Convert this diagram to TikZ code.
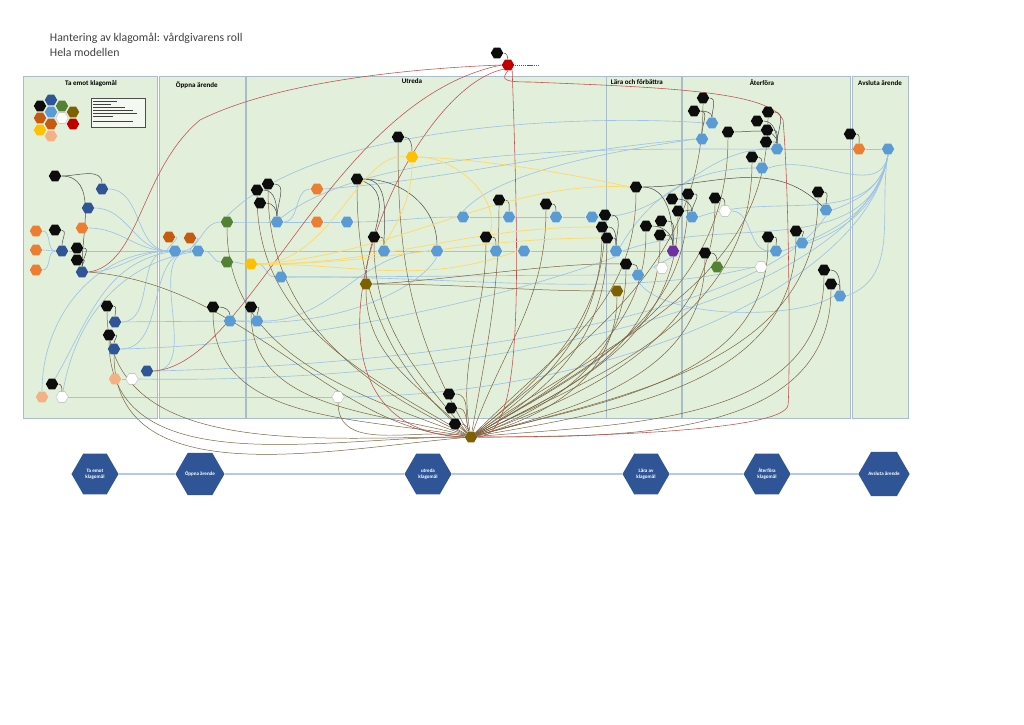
\documentclass[tikz,border=0pt]{standalone}
\usepackage{fontspec}
\setmainfont{Carlito}
\usepackage{tikz}
\usetikzlibrary{positioning, shapes.geometric, calc}
\pgfdeclarelayer{panel}
\pgfdeclarelayer{wires}
\pgfsetlayers{panel,wires,main}
\definecolor{hkPanel}{HTML}{E2EFDA}
\definecolor{hkFrame}{HTML}{A9BCCB}
\definecolor{hkBlack}{HTML}{0D0D0D}
\definecolor{hkBlue}{HTML}{5B9BD5}
\definecolor{hkDblue}{HTML}{2F5597}
\definecolor{hkOrange}{HTML}{ED7D31}
\definecolor{hkDorange}{HTML}{C55A11}
\definecolor{hkLorange}{HTML}{F4B183}
\definecolor{hkGreen}{HTML}{548235}
\definecolor{hkOlive}{HTML}{7F6000}
\definecolor{hkYellow}{HTML}{FFC000}
\definecolor{hkRed}{HTML}{C00000}
\definecolor{hkPurple}{HTML}{7030A0}
\definecolor{hkFlow}{HTML}{9DC3E6}
\definecolor{hkHub}{HTML}{7A6340}
\definecolor{hkRedline}{HTML}{C0504D}
\definecolor{hkYell}{HTML}{FFD966}
\definecolor{hkText}{HTML}{404040}
\definecolor{hkTime}{HTML}{8FAADC}

\begin{document}
\begin{tikzpicture}[x=0.025cm, y=-0.025cm,
    hx/.style={regular polygon, regular polygon sides=6, minimum size=0.31cm, inner sep=0pt, fill=#1},
    hxw/.style={hx=white, draw=black!30, line width=0.2pt},
    bighx/.style={regular polygon, regular polygon sides=6, minimum size=1.175cm, inner sep=0pt,
      fill=hkDblue, text=white, font=\fontsize{3.6}{4.2}\selectfont\bfseries, align=center},
    colhead/.style={font=\fontsize{5}{6}\selectfont\bfseries, text=black},
    actl/.style={draw=hkBlack!75, line width=0.35pt},
    flowl/.style={draw=hkFlow, line width=0.45pt},
    hubl/.style={draw=hkHub, line width=0.35pt},
    redl/.style={draw=hkRedline, line width=0.4pt},
    yell/.style={draw=hkYell, line width=0.5pt}]
  \useasboundingbox (0,0) rectangle (1024,724);

  % Rubrik
  \node[anchor=west, text=hkText, font=\fontsize{8.4}{9.5}\selectfont] (title) at (45,38) {Hantering av klagomål: vårdgivarens roll};
  \node[anchor=west, text=hkText, font=\fontsize{8.4}{9.5}\selectfont] (subtitle) at (45,52) {Hela modellen};

  % Kolumner
  \begin{pgfonlayer}{panel}
    \foreach \xa/\xb in {23/157, 159/245, 246/606, 606/681, 682/850, 852/908}
      \draw[draw=hkFrame, fill=hkPanel, line width=0.4pt] (\xa,76) rectangle (\xb,418);
  \end{pgfonlayer}
  \node[colhead] (h1) at (91,84) {Ta emot klagomål};
  \node[colhead, anchor=west] (h2) at (171,85) {Öppna ärende};
  \node[colhead] (h3) at (412,81) {Utreda};
  \node[colhead, anchor=west] (h4) at (606,82) {Lära och förbättra};
  \node[colhead] (h5) at (762,83) {Återföra};
  \node[colhead] (h6) at (880,83) {Avsluta ärende};

  % Teckenförklaring
  \foreach \n/\x/\y/\c in {L1/51/100/hkDblue, L2/40/106/hkBlack, L3/62/106/hkGreen, L4/51/112/hkBlue,
      L5/73/112/hkOlive, L6/40/118/hkDorange, L8/51/124/hkDorange, L9/73/124/hkRed,
      L10/40/130/hkYellow, L11/51/136/hkLorange}
    \node[hx=\c] (\n) at (\x,\y) {};
  \node[hxw] (L7) at (62,118) {};
  \draw[black!70, fill=hkPanel!40, line width=0.3pt] (91,98) rectangle (145,127);
  \foreach \yy/\ll in {101/24, 104/18, 107/32, 110/40, 113/44, 116/20, 121/40}
    \draw[hkText, line width=0.45pt] (93,\yy) -- ++(\ll,0);

  % Noder
  \foreach \n/\x/\y/\c in {
      t1/55/176/hkBlack, t2/102/189/hkDblue, t3/88/208/hkDblue, t4/36/231/hkOrange, t5/55/230/hkBlack,
      t6/82/228/hkOrange, t7/36/250/hkOrange, t8/62/251/hkDblue, t9/77/248/hkBlack, t10/77/260/hkBlack,
      t11/82/272/hkDblue, t12/36/270/hkOrange, t13/107/306/hkBlack, t14/115/322/hkDblue, t15/109/335/hkBlack,
      t16/114/349/hkDblue, t17/147/371/hkDblue, t18/115/379/hkLorange, t20/52/384/hkBlack, t21/42/397/hkLorange,
      o1/169/237/hkDorange, o2/190/238/hkDorange, o3/175/251/hkBlue, o4/198/251/hkBlue, o5/227/222/hkGreen,
      o6/227/262/hkGreen, o7/213/307/hkBlack, o8/230/321/hkBlue,
      u1/251/264/hkYellow, u2/257/190/hkBlack, u3/268/184/hkBlack, u4/260/203/hkBlack, u5/277/222/hkBlue,
      u6/317/189/hkOrange, u7/317/222/hkOrange, u8/347/222/hkBlue, u9/357/179/hkBlack, u10/374/237/hkBlack,
      u11/384/251/hkBlue, u12/366/284/hkOlive, u13/281/277/hkBlue, u14/251/307/hkBlack, u15/257/321/hkBlue,
      u16/398/137/hkBlack, u17/412/157/hkYellow, u18/499/200/hkBlack, u19/546/204/hkBlack, u20/463/217/hkBlue,
      u21/509/217/hkBlue, u22/556/217/hkBlue, u23/592/217/hkBlue, u24/437/251/hkBlue, u25/486/237/hkBlack,
      u26/496/251/hkBlue, u27/524/251/hkBlue, u29/449/394/hkBlack, u30/451/408/hkBlack, u31/455/424/hkBlack,
      hub/471/437/hkOlive, top1/497/53/hkBlack, top2/508/65/hkRed,
      l1/605/215/hkBlack, l2/602/227/hkBlack, l3/607/238/hkBlack, l4/616/251/hkBlue, l5/626/264/hkBlack,
      l6/636/187/hkBlack, l7/617/291/hkOlive, l8/638/275/hkBlue, l10/646/226/hkBlack, l11/661/221/hkBlack,
      l12/660/235/hkBlack, l13/673/251/hkPurple,
      a1/703/98/hkBlack, a2/694/111/hkBlack, a3/712/123/hkBlue, a4/702/139/hkBlue, a5/728/132/hkBlack,
      a6/768/112/hkBlack, a7/757/121/hkBlack, a8/767/130/hkBlack, a9/766/142/hkBlack, a10/777/149/hkBlue,
      a11/752/157/hkBlack, a12/762/168/hkBlue, a13/688/194/hkBlack, a14/672/199/hkBlack, a15/678/211/hkBlack,
      a16/692/217/hkBlue, a17/715/198/hkBlack, a19/705/253/hkBlack, a20/717/267/hkGreen, a21/768/237/hkBlack,
      a22/776/251/hkBlue, a23/796/231/hkBlack, a24/802/243/hkBlue, a26/818/192/hkBlack, a27/826/210/hkBlue,
      a28/824/270/hkBlack, a29/831/284/hkBlack, a30/840/296/hkBlue,
      v1/850/134/hkBlack, v2/859/149/hkOrange, v3/888/149/hkBlue}
    \node[hx=\c] (\n) at (\x,\y) {};
  \foreach \n/\x/\y in {t19/132/379, t22/62/397, u28/338/397, l9/662/268, a18/725/211, a25/761/267}
    \node[hxw] (\n) at (\x,\y) {};
  \draw[hkBlack!70, line width=0.6pt, dash pattern=on 1pt off 0.5pt] (top2.east) -- ++(24,0);

  \begin{pgfonlayer}{wires}
    % Ljusblå flöden
    \foreach \a/\b in {t4/t8, t7/t8, t12/t8, t2/o3, t3/o3, t6/o3, t11/o3, t14/o3, t16/o4, t17/o4,
        o3/o5, o4/o6, o5/u5, o6/u1, u5/u6, u8/u20, u23/a10, u13/l8, u15/u24, a20/a25, l13/l9,
        a18/a22, u1/u13, o1/o3, o2/o4, t18/t19}
      \draw[flowl] (\a) to[out=0,in=180] (\b);
    \draw[flowl] (t8) -- (o3) -- (o4) -- (u11) -- (u24) -- (u26) -- (u27) -- (l4) -- (l13) -- (a22);
    \draw[flowl] (u5) -- (u7) -- (u8);
    \draw[flowl] (u20) -- (u21) -- (u22) -- (u23);
    \draw[flowl] (t14) -- (o8) -- (u15);
    \draw[flowl] (t22) -- (u28);
    \draw[flowl] (a10) -- (v2) -- (v3);
    \draw[flowl] (t21) to[out=90,in=180] (o3);
    \draw[flowl] (t22) to[out=80,in=190] (o4);
    \draw[flowl] (t20) to[out=60,in=190] (o3);
    \draw[flowl] (t19.east) .. controls (500,385) and (860,300) .. (v3.south);
    \draw[flowl] (u28.east) .. controls (620,395) and (870,280) .. (v3.south);
    \draw[flowl] (t17.east) .. controls (420,365) and (760,320) .. (a27.south);
    \draw[flowl] (t16.east) .. controls (300,345) and (500,300) .. (l4.south);
    \draw[flowl] (o5.north) .. controls (320,120) and (600,115) .. (a3.west);
    \draw[flowl] (u6.east) .. controls (450,180) and (560,150) .. (a4.west);
    \draw[flowl] (u5.north east) .. controls (380,140) and (650,150) .. (a10.west);
    \draw[flowl] (a4.west) .. controls (620,150) and (500,170) .. (u20.north);
    \draw[flowl] (a12.west) to[out=180,in=60] (l4.north east);
    \draw[flowl] (l8.south) .. controls (660,320) and (800,320) .. (a30.west);
    \draw[flowl] (o8.east) .. controls (330,330) and (420,290) .. (u24.south);
    \draw[flowl] (u13.east) .. controls (450,275) and (620,300) .. (a25.west);
    \foreach \a in {l4, a16, a22, a24, a27, a30, a12}
      \draw[flowl] (\a.east) to[out=20,in=-100] (v3.south);

    % Mörka kopplingar (aktör till aktivitet)
    \foreach \a/\b in {t1/t2, t1/t11, t5/t8, t9/t11, t10/t11, t13/t14, t15/t16, t20/t22, o7/o8, u14/u15,
        u2/u5, u3/u5, u4/u5, u9/u11, u9/u24, u10/u11, u16/u17, u18/u21, u19/u22, u25/u26, l1/l4, l2/l4,
        l3/l4, l5/l8, l6/l13, l10/l13, l11/l13, l12/l13, a1/a3, a2/a3, a2/a4, a5/a10, a6/a10, a7/a10,
        a8/a10, a9/a10, a11/a12, a13/a16, a14/a16, a15/a16, a17/a18, a19/a20, a21/a22, a23/a24, a26/a27,
        a28/a30, a29/a30, v1/v2, top1/top2}
      \draw[actl] (\a) to[out=0,in=90] (\b);
    \draw[actl] (l6) to[out=0,in=135] (a27);
    \draw[actl] (u9) to[out=-20,in=90] (u12);

    % Bruna linjer till navet
    \foreach \n/\o in {t13/180, t15/180, t16/185, o7/170, u14/165, u2/150, u9/140, u10/130, u12/135,
        u28/170, u16/120, o5/160, u18/80, u25/100, u3/155}
      \draw[hubl] (hub) to[out=\o,in=-90] (\n);
    \foreach \n/\o in {u19/70, l1/40, l2/35, l3/30, l5/20, l6/45, l7/15, l10/30, l12/25, a1/40, a5/30,
        a6/35, a11/25, a13/30, a15/25, a17/20, a19/15, a21/15, a23/10, a26/15, a28/5, a29/0}
      \draw[hubl] (hub) to[out=\o,in=-90] (\n);
    \draw[hubl] (hub.west) .. controls (330,430) and (250,285) .. (t11.east);
    \foreach \n in {u29, u30, u31}
      \draw[hubl] (\n) to[out=0,in=110] (hub);
    \draw[hubl] (u12.east) to[out=0,in=180] (l7.west);
    \draw[hubl] (u12.east) .. controls (450,280) and (560,262) .. (l5.west);

    % Röda linjer
    \draw[redl] (t11.east) .. controls (140,265) and (140,170) .. (200,120)
      .. controls (280,80) and (420,68) .. (top2.west);
    \draw[redl] (t17.east) .. controls (250,365) and (330,100) .. (top2.west);
    \draw[redl] (top2.south west) .. controls (400,90) and (260,430) .. (hub.west);
    \draw[redl] (top2.south east) .. controls (520,300) and (522,437) .. (hub.east);
    \draw[redl] (top2.south) .. controls (500,80) and (505,82) .. (530,82)
      .. controls (650,87) and (770,90) .. (783,120)
      .. controls (790,200) and (790,390) .. (788,405)
      .. controls (785,430) and (600,437) .. (hub.east);

    % Gula linjer
    \draw[yell] (u1.east) .. controls (400,255) and (500,180) .. (l6.west);
    \draw[yell] (u1.east) to[out=0,in=180] (l2.west);
    \draw[yell] (u1.east) to[out=0,in=180] (l3.west);
    \draw[yell] (u1.east) to[out=0,in=200] (u27.west);
    \draw[yell] (u17.east) .. controls (500,160) and (600,180) .. (l6.west);
    \draw[yell] (u17.east) .. controls (460,158) and (500,200) .. (u25.north east);
    \draw[yell] (u17.west) .. controls (360,150) and (330,265) .. (u1.east);
    \draw[yell] (u17.south) to[out=-90,in=60] (u11.north);
  \end{pgfonlayer}

  % Processteg
  \node[bighx] (s1) at (95,474) {Ta emot\\klagomål};
  \node[bighx] (s2) at (200,474) {Öppna ärende};
  \node[bighx] (s3) at (428,474) {utreda\\klagomål};
  \node[bighx] (s4) at (646,474) {Lära av\\klagomål};
  \node[bighx] (s5) at (767,474) {Återföra\\klagomål};
  \node[bighx] (s6) at (884,474) {Avsluta ärende};
  \draw[draw=hkTime, line width=0.8pt] (s1) -- (s2) -- (s3) -- (s4) -- (s5) -- (s6);
\end{tikzpicture}
\end{document}
